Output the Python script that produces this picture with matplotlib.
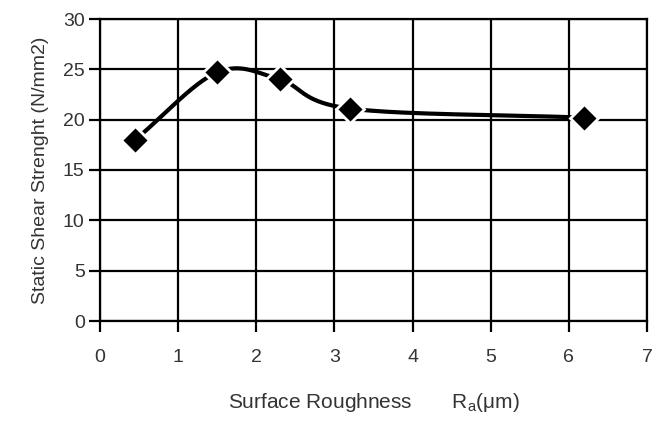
import numpy as np
import matplotlib
matplotlib.use('Agg')
from matplotlib import pyplot as plt

roughness = [0.45, 1.5, 2.3, 3.2, 6.2]
strength = [18.0, 24.7, 24.0, 21.1, 20.2]
x_ticks = [0, 1, 2, 3, 4, 5, 6, 7]
y_ticks = [0, 5, 10, 15, 20, 25, 30]

plt.rcParams['font.family'] = ['Liberation Sans', 'DejaVu Sans']


def smooth(xs, ys, n=40):
    # catmull-rom style smoothing, like the spreadsheet "smoothed line"
    xs = np.asarray(xs, float)
    ys = np.asarray(ys, float)
    px = np.concatenate([[2 * xs[0] - xs[1]], xs, [2 * xs[-1] - xs[-2]]])
    py = np.concatenate([[2 * ys[0] - ys[1]], ys, [2 * ys[-1] - ys[-2]]])
    ox, oy = [], []
    for i in range(1, len(px) - 2):
        t = np.linspace(0, 1, n)
        for p, out in ((px, ox), (py, oy)):
            p0, p1, p2, p3 = p[i - 1], p[i], p[i + 1], p[i + 2]
            m1 = (p2 - p0) / 6.0
            m2 = (p3 - p1) / 6.0
            b = ((1 - t) ** 3 * p1 + 3 * (1 - t) ** 2 * t * (p1 + m1)
                 + 3 * (1 - t) * t ** 2 * (p2 - m2) + t ** 3 * p2)
            out.extend(b)
    return np.array(ox), np.array(oy)


fig = plt.figure(figsize=(6.54, 4.21), dpi=100)
ax = fig.add_axes([100 / 654, 1 - 321 / 421, 547 / 654, 302 / 421])

sx, sy = smooth(roughness, strength)
ax.plot(sx, sy, color='black', lw=3, solid_capstyle='butt', zorder=3)
ax.plot(roughness, strength, ls='none', marker='D', ms=14,
        mfc='black', mec='white', mew=2, zorder=4)

ax.set_xlim(0, 7)
ax.set_ylim(0, 30)
ax.set_xticks(x_ticks)
ax.set_yticks(y_ticks)
ax.grid(True, color='black', lw=1.6)
ax.set_axisbelow(True)
for s in ax.spines.values():
    s.set_linewidth(1.6)
ax.tick_params(axis='both', direction='out', length=8, width=1.6,
               labelsize=14, labelcolor='#333333', pad=3)
ax.tick_params(axis='x', pad=12)

ax.set_xlabel('Surface Roughness       R$_\\mathregular{a}$(\u03bcm)',
              fontsize=15, color='#333333', labelpad=18)
ax.set_ylabel('Static Shear Strenght (N/mm2)', fontsize=14,
              color='#333333', labelpad=10)

fig.savefig('out.png', dpi=100)
